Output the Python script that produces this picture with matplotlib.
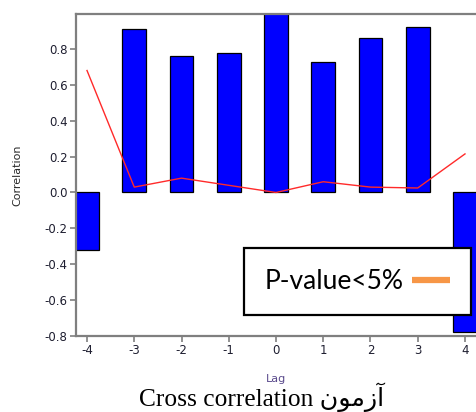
import matplotlib
matplotlib.use("Agg")
import matplotlib.pyplot as plt
from matplotlib.lines import Line2D

# values
lags = [-4, -3, -2, -1, 0, 1, 2, 3, 4]
correlation = [-0.32, 0.91, 0.76, 0.78, 1.0, 0.73, 0.86, 0.92, -0.78]
p_values = [0.68, 0.03, 0.08, 0.04, 0.0, 0.06, 0.03, 0.025, 0.215]
y_ticks = [-0.8, -0.6, -0.4, -0.2, 0.0, 0.2, 0.4, 0.6, 0.8]

legend_label = "P-value<5%"
# "آزمون" written in visual order with presentation forms (matplotlib does no shaping)
title_text = "Cross correlation " + "\ufee5\ufeee\ufee3\ufeaf\ufe81"

W, H = 476, 412
fig = plt.figure(figsize=(W / 100, H / 100), dpi=100)
ax = fig.add_axes([76 / W, (H - 336) / H, 400 / W, 322 / H])

ax.bar(lags, correlation, width=0.5, color="#0000ff", edgecolor="black", linewidth=0.9, zorder=2)
ax.plot(lags, p_values, color="#ff2a2a", linewidth=1.0, zorder=3)

ax.set_xlim(-4.233, 4.233)
ax.set_ylim(-0.8, 0.995)
ax.set_xticks(lags)
ax.set_xticklabels([str(l) for l in lags])
ax.set_yticks(y_ticks)
ax.set_yticklabels(["%.1f" % v for v in y_ticks])

gray = "#7f7f7f"
for side in ["left", "top", "bottom"]:
    ax.spines[side].set_color(gray)
    ax.spines[side].set_linewidth(1.6)
ax.spines["right"].set_visible(False)
ax.tick_params(axis="both", direction="out", length=4, width=1.2, color=gray,
               labelsize=8.5, labelcolor="#1e1e30", pad=2)

ax.set_ylabel("Correlation", fontsize=8, color="#2a2a2a")
ax.yaxis.set_label_coords(-0.135, 0.5)
ax.set_xlabel("Lag", fontsize=8, color="#5a4a8c")
ax.xaxis.set_label_coords(0.5, -0.118)

handle = Line2D([], [], color="#f79646", linewidth=4.5, solid_capstyle="butt")
leg = ax.legend([handle], [legend_label], loc="lower left",
                bbox_to_anchor=(244 / W, (H - 315) / H), bbox_transform=fig.transFigure,
                borderaxespad=0, markerfirst=False, fancybox=False, framealpha=1,
                prop={"family": ["Lato", "DejaVu Sans"], "size": 19},
                handlelength=1.45, handletextpad=0.28, borderpad=0.8)
leg.get_frame().set_edgecolor("black")
leg.get_frame().set_linewidth(1.6)
leg.set_zorder(5)

fig.text(262 / W, 0.014, title_text, ha="center", va="baseline", fontsize=18.3,
         family=["Liberation Serif", "DejaVu Sans"], color="black")

fig.savefig("out.png", dpi=100)
